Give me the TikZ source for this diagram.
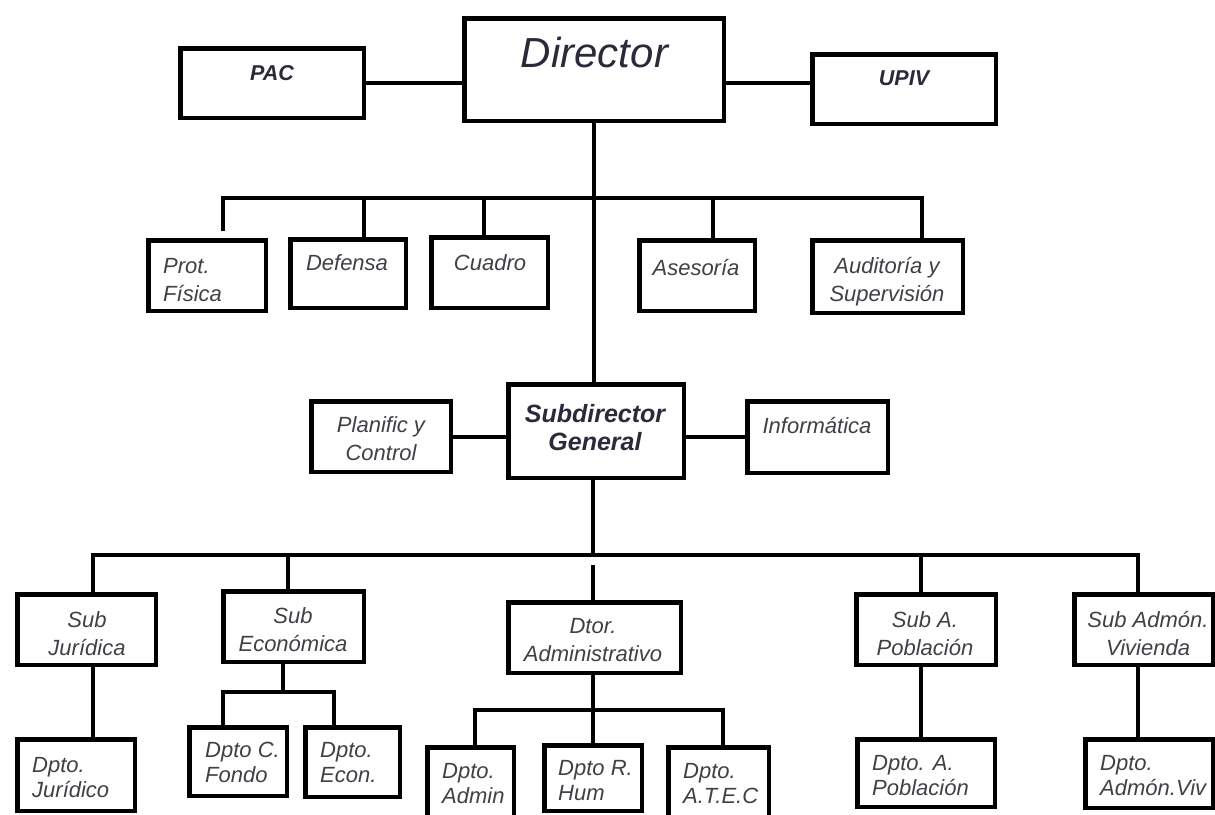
\documentclass[tikz,border=0pt]{standalone}
\usepackage{fontspec}
\setmainfont{Liberation Sans}

\definecolor{headink}{HTML}{2C2A3A}
\definecolor{bodyink}{HTML}{404046}

\tikzset{
  orgbox/.style={draw=black, line width=4.5pt, fill=white, inner sep=0pt},
  link/.style={draw=black, line width=4pt},
  lbl/.style={inner sep=0pt, text=bodyink, align=center,
              font=\fontsize{22}{28}\selectfont\itshape},
  lblsmall/.style={lbl, align=left, font=\fontsize{22}{25}\selectfont\itshape},
  lblbold/.style={inner sep=0pt, text=headink, align=center,
              font=\fontsize{21.5}{26}\selectfont\bfseries\itshape},
  lblsub/.style={inner sep=0pt, text=headink, align=center,
              font=\fontsize{25}{28}\selectfont\bfseries\itshape},
  lbltop/.style={inner sep=0pt, text=headink,
              font=\fontsize{42}{48}\selectfont\itshape},
}

\newcommand{\orgunit}[5]{% name, centre x, centre y, width, height
  \node[orgbox, minimum width=#4pt, minimum height=#5pt] (#1) at (#2,#3) {};}

\begin{document}
\begin{tikzpicture}[x=1pt, y=-1pt]
\useasboundingbox (0,0) rectangle (1215,814);
\fill[white] (0,0) rectangle (1215,814);
\clip (0,0) rectangle (1215,814);

% ---- top level
\orgunit{pac}{272}{83}{183.5}{69.5}
\orgunit{director}{594}{69.5}{259.5}{102.5}
\orgunit{upiv}{904}{89}{183.5}{69.5}

% ---- staff units under the director
\orgunit{prot}{207}{275.5}{117.5}{70.5}
\orgunit{defensa}{348}{273.5}{115.5}{68.5}
\orgunit{cuadro}{489.5}{272.5}{116.5}{70.5}
\orgunit{asesoria}{697}{275.5}{115.5}{70.5}
\orgunit{audit}{887.5}{276.5}{150.5}{72.5}

% ---- deputy director level
\orgunit{planif}{381}{436.5}{139.5}{70.5}
\orgunit{subdir}{596}{431}{175.5}{93.5}
\orgunit{inform}{817.5}{437}{140.5}{71.5}

% ---- sub-directorates
\orgunit{subjur}{86.5}{629.5}{138.5}{70.5}
\orgunit{subecon}{293.5}{626.5}{140.5}{70.5}
\orgunit{dtor}{594.5}{637.5}{172.5}{70.5}
\orgunit{subpob}{926}{629.5}{139.5}{70.5}
\orgunit{subviv}{1143.5}{629.5}{138.5}{70.5}

% ---- departments
\orgunit{dptojur}{76}{775}{117.5}{71.5}
\orgunit{fondo}{238}{761.5}{97.5}{68.5}
\orgunit{econ}{352.5}{762}{94.5}{69.5}
\orgunit{dadmin}{470.5}{787.5}{86.5}{80.5}
\orgunit{rhum}{593}{778}{97.5}{65.5}
\orgunit{atec}{718.5}{787.5}{100.5}{80.5}
\orgunit{dptopob}{926}{773}{137.5}{67.5}
\orgunit{dptoviv}{1149}{773.5}{127.5}{68.5}

% ---- connectors: top level
\draw[link] (pac.east) -- (pac.east -| director.west);
\draw[link] (director.east |- pac.east) -- (upiv.west |- pac.east);
\draw[link] (director.south) -- (director.south |- subdir.north);

\coordinate (tb1) at (223,198);
\coordinate (tb2) at (364,198);
\coordinate (tb3) at (484,198);
\coordinate (tb4) at (713,198);
\coordinate (tb5) at (922,198);
\draw[link, shorten <=7pt] (tb1 |- prot.north) -- (tb1) -- (tb5) -- (tb5 |- audit.north);
\draw[link] (tb2) -- (tb2 |- defensa.north);
\draw[link] (tb3) -- (tb3 |- cuadro.north);
\draw[link] (tb4) -- (tb4 |- asesoria.north);

% ---- connectors: deputy director
\draw[link] (planif.east) -- (planif.east -| subdir.west);
\draw[link] (subdir.east |- inform.west) -- (inform.west);

\coordinate (lb1) at (93,555);
\coordinate (lb2) at (288,555);
\coordinate (lb3) at (593,555);
\coordinate (lb4) at (921,555);
\coordinate (lb5) at (1138,555);
\draw[link] (lb3 |- subdir.south) -- (lb3);
\draw[link] (lb1 |- subjur.north) -- (lb1) -- (lb5) -- (lb5 |- subviv.north);
\draw[link] (lb2) -- (lb2 |- subecon.north);
\draw[link] (lb4) -- (lb4 |- subpob.north);
\coordinate (dgap) at (593,565);
\draw[link] (dgap) -- (dgap |- dtor.north);

% ---- connectors: departments
\draw[link] (lb1 |- subjur.south) -- (lb1 |- dptojur.north);
\draw[link] (lb4 |- subpob.south) -- (lb4 |- dptopob.north);
\draw[link] (lb5 |- subviv.south) -- (lb5 |- dptoviv.north);

\coordinate (eb0) at (283,692);
\coordinate (eb1) at (223,692);
\coordinate (eb2) at (334,692);
\draw[link] (eb0 |- subecon.south) -- (eb0);
\draw[link] (eb1 |- fondo.north) -- (eb1) -- (eb2) -- (eb2 |- econ.north);

\coordinate (ab1) at (475,710);
\coordinate (ab2) at (593,710);
\coordinate (ab3) at (723,710);
\draw[link] (ab2 |- dtor.south) -- (ab2 |- rhum.north);
\draw[link] (ab1 |- dadmin.north) -- (ab1) -- (ab3) -- (ab3 |- atec.north);

% ---- labels (placed on the baseline of their last line)
\node[lblbold, anchor=base] (l-pac) at (272,80) {PAC};
\node[lbltop, anchor=base] (l-director) at (594.5,67) {Director};
\node[lblbold, anchor=base] (l-upiv) at (904,85) {UPIV};

\node[lbl, align=left, anchor=base west] (l-prot) at (163,301) {Prot.\\Física};
\node[lbl, anchor=base] (l-defensa) at (347,270) {Defensa};
\node[lbl, anchor=base] (l-cuadro) at (490,270) {Cuadro};
\node[lbl, anchor=base] (l-asesoria) at (696,275) {Asesoría};
\node[lbl, anchor=base] (l-audit) at (887,301) {Auditoría y\\Supervisión};

\node[lbl, anchor=base] (l-planif) at (381,460) {Planific y\\Control};
\node[lblsub, anchor=base] (l-subdir) at (595,450) {Subdirector\\General};
\node[lbl, anchor=base] (l-inform) at (817,433) {Informática};

\node[lbl, anchor=base] (l-subjur) at (87,655) {Sub\\Jurídica};
\node[lbl, anchor=base] (l-subecon) at (293,651) {Sub\\Económica};
\node[lbl, anchor=base] (l-dtor) at (593,661) {Dtor.\\Administrativo};
\node[lbl, anchor=base] (l-subpob) at (925,655) {Sub A.\\Población};
\node[lbl, anchor=base] (l-subviv) at (1148,655) {Sub Admón.\\Vivienda};

\node[lblsmall, anchor=base west] (l-dptojur) at (32,797) {Dpto.\\Jurídico};
\node[lblsmall, anchor=base west] (l-fondo) at (205,782) {Dpto C.\\Fondo};
\node[lblsmall, anchor=base west] (l-econ) at (320,782) {Dpto.\\Econ.};
\node[lblsmall, anchor=base west] (l-dadmin) at (442,803) {Dpto.\\Admin};
\node[lblsmall, anchor=base west] (l-rhum) at (558,800) {Dpto R.\\Hum};
\node[lblsmall, anchor=base west] (l-atec) at (683,803) {Dpto.\\A.T.E.C};
\node[lblsmall, anchor=base west] (l-dptopob) at (872,795) {Dpto. A.\\Población};
\node[lblsmall, anchor=base west] (l-dptoviv) at (1100,795) {Dpto.\\Admón.Viv};
\end{tikzpicture}
\end{document}
